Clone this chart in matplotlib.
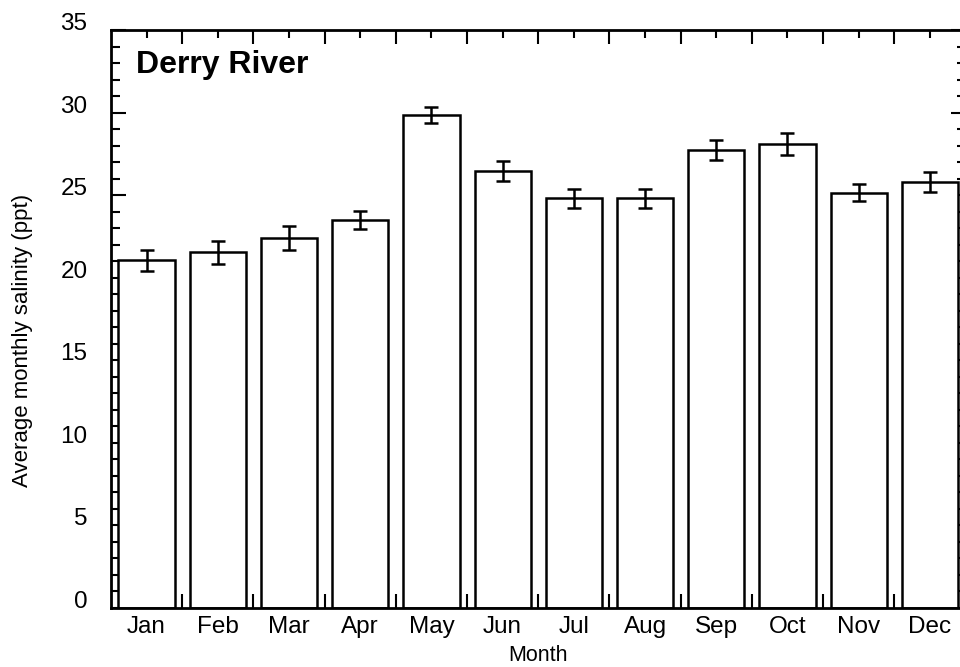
import matplotlib
matplotlib.use("Agg")
import matplotlib.pyplot as plt
from matplotlib.ticker import MultipleLocator, FixedLocator
import numpy as np

plt.rcParams['font.family'] = ['Liberation Sans', 'DejaVu Sans']

months = ["Jan", "Feb", "Mar", "Apr", "May", "Jun",
          "Jul", "Aug", "Sep", "Oct", "Nov", "Dec"]
salinity = [21.05, 21.55, 22.4, 23.5, 29.85, 26.45,
            24.8, 24.8, 27.75, 28.1, 25.15, 25.8]
salinity_err = [0.65, 0.7, 0.75, 0.55, 0.5, 0.6,
                0.55, 0.6, 0.6, 0.65, 0.5, 0.6]

fig = plt.figure(figsize=(9.6, 6.67), dpi=100)
ax = fig.add_axes([111 / 960, 59 / 667, 854.5 / 960, 578 / 667])

x = np.arange(len(months))
ax.bar(x, salinity, width=0.79, color="white", edgecolor="black",
       linewidth=1.8, zorder=2)
ax.errorbar(x, salinity, yerr=salinity_err, fmt="none", ecolor="black",
            elinewidth=1.8, capsize=4.8, capthick=1.8, zorder=3)

ax.set_xlim(-0.5, len(months) - 0.5)
ax.set_ylim(0, 35)

for s in ax.spines.values():
    s.set_linewidth(2.0)

# x ticks: month centres (short) plus month boundaries (long)
ax.xaxis.set_major_locator(FixedLocator(x))
ax.xaxis.set_minor_locator(FixedLocator(x[:-1] + 0.5))
ax.set_xticks(x)
ax.set_xticklabels(months)
ax.tick_params(axis="x", which="major", direction="in", length=5.5,
               width=1.5, top=True, bottom=True, labelsize=17.5, pad=5.5)
ax.tick_params(axis="x", which="minor", direction="in", length=10,
               width=1.5, top=True, bottom=True)

# y ticks: every 5 labelled, every 1 minor, on both sides
ax.yaxis.set_major_locator(MultipleLocator(5))
ax.yaxis.set_minor_locator(MultipleLocator(1))
ax.tick_params(axis="y", which="major", direction="in", length=11,
               width=1.5, left=True, right=True, labelsize=17.5, pad=17)
ax.tick_params(axis="y", which="minor", direction="in", length=6.5,
               width=1.5, left=True, right=True)
for lbl in ax.get_yticklabels():
    lbl.set_verticalalignment("baseline")

ax.set_xlabel("Month", fontsize=15.5, labelpad=5)
ax.set_ylabel("Average monthly salinity (ppt)", fontsize=16)
ax.yaxis.set_label_coords(-0.091, 0.4637)

ax.text(0.029, 0.926, "Derry River", transform=ax.transAxes,
        fontsize=23, fontweight="bold", ha="left", va="baseline")

fig.savefig("out.png", dpi=100)
